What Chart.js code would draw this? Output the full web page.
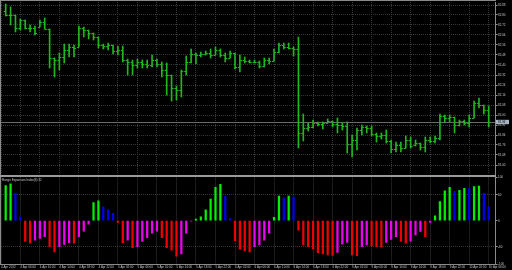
<!DOCTYPE html>
<html><head><meta charset="utf-8">
<script src="https://cdn.jsdelivr.net/npm/chart.js@4.4.1/dist/chart.umd.min.js"></script>
<style>
html,body{margin:0;padding:0;background:#000;width:512px;height:270px;overflow:hidden}
#main{position:absolute;left:0;top:0;width:512px;height:175px}
#sub{position:absolute;left:0;top:175px;width:512px;height:95px}
.frame{position:absolute;background:#8a8a8a}
</style></head><body>
<div id="main"><canvas id="c1"></canvas></div>
<div id="sub"><canvas id="c2"></canvas></div>
<div class="frame" style="left:0;top:0;width:496px;height:1px"></div>
<div class="frame" style="left:0;top:0;width:1px;height:265px"></div>
<div class="frame" style="left:0;top:175px;width:496px;height:2px;background:#9a9a9a"></div>
<script>
// ---- data (H1 bars, 4 Apr 2012 03:00 .. 10 Apr 2012 06:00) ----
const opens = [82.832,82.800,82.800,82.696,82.760,82.696,82.696,82.704,82.744,82.688,
82.456,82.440,82.464,82.520,82.544,82.544,82.696,82.680,82.656,82.624,
82.560,82.552,82.560,82.512,82.520,82.440,82.424,82.400,82.424,82.408,
82.400,82.440,82.408,82.360,82.320,82.216,82.200,82.352,82.424,82.488,
82.480,82.488,82.496,82.480,82.520,82.480,82.456,82.496,82.384,82.440,
82.432,82.424,82.424,82.392,82.440,82.432,82.504,82.560,82.544,82.536,
82.528,81.856,81.896,81.904,81.936,81.928,81.936,81.952,81.928,81.920,
81.912,81.768,81.800,81.880,81.904,81.896,81.848,81.832,81.840,81.792,
81.728,81.760,81.736,81.800,81.760,81.776,81.744,81.800,81.792,81.816,
81.992,81.976,81.984,81.920,81.952,81.936,81.976,82.096,82.080,82.040];
const highs = [82.888,82.864,82.800,82.768,82.760,82.720,82.712,82.760,82.776,82.688,
82.456,82.496,82.568,82.568,82.560,82.712,82.704,82.680,82.656,82.624,
82.568,82.576,82.560,82.552,82.552,82.448,82.440,82.448,82.440,82.440,
82.480,82.448,82.424,82.416,82.320,82.232,82.360,82.472,82.528,82.496,
82.504,82.512,82.528,82.544,82.528,82.496,82.512,82.496,82.480,82.464,
82.440,82.440,82.432,82.456,82.456,82.528,82.576,82.576,82.576,82.544,
82.624,82.008,81.936,81.960,81.944,81.944,81.968,81.952,81.976,81.936,
81.944,81.840,81.896,81.920,81.912,81.912,81.856,81.856,81.880,81.800,
81.784,81.784,81.832,81.824,81.800,81.776,81.824,81.824,81.832,82.008,
82.000,82.000,81.984,81.960,81.960,82.000,82.112,82.136,82.080,82.072];
const lows = [82.792,82.720,82.664,82.680,82.688,82.664,82.640,82.704,82.688,82.376,
82.304,82.360,82.416,82.464,82.464,82.544,82.624,82.608,82.600,82.536,
82.528,82.520,82.488,82.480,82.424,82.320,82.320,82.376,82.376,82.376,
82.384,82.384,82.304,82.160,82.112,82.120,82.144,82.320,82.416,82.408,
82.464,82.480,82.456,82.480,82.464,82.424,82.456,82.368,82.344,82.416,
82.416,82.416,82.376,82.384,82.408,82.432,82.496,82.528,82.528,82.472,
81.736,81.792,81.872,81.896,81.912,81.888,81.936,81.904,81.856,81.880,
81.696,81.664,81.720,81.840,81.856,81.832,81.784,81.808,81.776,81.696,
81.704,81.704,81.736,81.736,81.752,81.720,81.704,81.776,81.776,81.800,
81.944,81.944,81.856,81.912,81.920,81.904,81.976,82.056,82.008,81.904];
const closes = [82.800,82.800,82.696,82.760,82.696,82.696,82.656,82.744,82.688,82.456,
82.440,82.464,82.520,82.544,82.536,82.696,82.680,82.656,82.624,82.560,
82.552,82.560,82.512,82.520,82.440,82.424,82.400,82.424,82.408,82.400,
82.440,82.408,82.360,82.320,82.216,82.200,82.352,82.424,82.488,82.480,
82.488,82.496,82.480,82.520,82.480,82.456,82.496,82.384,82.440,82.432,
82.424,82.424,82.392,82.440,82.432,82.504,82.560,82.544,82.536,82.528,
81.856,81.896,81.904,81.936,81.928,81.936,81.952,81.928,81.920,81.912,
81.768,81.800,81.880,81.904,81.896,81.848,81.832,81.840,81.792,81.728,
81.760,81.736,81.800,81.752,81.776,81.744,81.800,81.792,81.816,81.992,
81.976,81.984,81.920,81.952,81.936,81.976,82.096,82.080,82.040,81.944];
// Range Expansion Index(8)
const rei = [81,85,63,9,-48,-52,-45,-41,-37,-60,
-72,-60,-55,-51,-52,-37,-24,-8,42,46,
32,25,17,-4,-51,-45,-62,-60,-48,-39,
-29,-24,-39,-62,-68,-82,-77,-29,-1,4,
9,25,50,77,84,57,5,-46,-66,-70,
-72,-60,-56,-45,-29,8,57,53,57,55,
-22,-56,-60,-65,-74,-77,-79,-80,-73,-54,
-50,-79,-81,-60,-56,-58,-60,-61,-50,-43,
-37,-48,-52,-47,-33,-25,-37,-4,11,44,
69,77,68,70,75,74,79,80,63,32];
const timeLabels = ["4 Apr 2012","4 Apr 06:00","4 Apr 10:00","4 Apr 14:00","4 Apr 18:00","4 Apr 22:00",
"5 Apr 02:00","5 Apr 06:00","5 Apr 10:00","5 Apr 14:00","5 Apr 18:00","5 Apr 22:00",
"6 Apr 02:00","6 Apr 06:00","6 Apr 10:00","6 Apr 14:00","6 Apr 18:00","6 Apr 22:00",
"9 Apr 02:00","9 Apr 06:00","9 Apr 10:00","9 Apr 14:00","9 Apr 18:00","9 Apr 22:00",
"10 Apr 02:00","10 Apr 06:00"];
const timeLabelBars = [3,7,11,15,19,23,27,31,35,39,43,47,51,55,59,63,67,71,75,79,83,87,91,95,99];
const priceTicks = [82.88,82.80,82.72,82.64,82.56,82.48,82.40,82.32,82.24,82.16,82.08,82.00,81.92,81.84,81.76,81.68,81.60];
const reiTicks = [100,60,0,-60,-100];
const reiLevels = [60,-60];
const indicatorName = "Range Expansion Index(8) 32";

// ---- style ----
const X_MIN = -0.963, X_MAX = 100.29;
const P_MIN = 81.528, P_MAX = 82.904;
const FONT = {family:'"Liberation Sans", Arial, sans-serif', size:3};
const GRID = '#34373b', TXT = '#c4c4c4', AXIS = '#8a8a8a';
const BAR = '#1fb81f';
const COL = {up:'#00f000', down:'#0000f0', dn:'#f00000', upn:'#f000f0'};

const xTicks = s => { s.ticks = [{value:s.min}].concat(timeLabelBars.map(v=>({value:v}))); };

const ohlcTicks = {
  id:'ohlcTicks',
  beforeDatasetsDraw(chart){
    const {ctx, chartArea:a, scales:{y}} = chart;
    const yv = Math.round(y.getPixelForValue(closes[closes.length-1]))+0.5;
    ctx.save(); ctx.strokeStyle='#6a6a6a'; ctx.lineWidth=1;
    ctx.beginPath(); ctx.moveTo(a.left, yv); ctx.lineTo(a.right, yv); ctx.stroke(); ctx.restore();
  },
  afterDatasetsDraw(chart){
    const {ctx, scales:{x,y}} = chart;
    ctx.save(); ctx.strokeStyle = BAR; ctx.lineWidth = 1; ctx.beginPath();
    for (let i=0;i<opens.length;i++){
      const px = x.getPixelForValue(i);
      const po = Math.round(y.getPixelForValue(opens[i]))+0.5;
      const pc = Math.round(y.getPixelForValue(closes[i]))+0.5;
      ctx.moveTo(px-2, po); ctx.lineTo(px, po);
      ctx.moveTo(px, pc); ctx.lineTo(px+2, pc);
    }
    ctx.stroke(); ctx.restore();
  },
  afterDraw(chart){
    const {ctx, chartArea:a, scales:{y}} = chart;
    const last = closes[closes.length-1];
    const yv = y.getPixelForValue(last);
    ctx.save();
    ctx.fillStyle='#a9b6c6'; ctx.fillRect(a.right+1, yv-2.2, 13, 4.4);
    ctx.fillStyle='#000'; ctx.font='3px "Liberation Sans", Arial, sans-serif';
    ctx.textBaseline='middle'; ctx.fillText(last.toFixed(2), a.right+3, yv);
    ctx.restore();
  }
};

new Chart(document.getElementById('c1'), {
  type:'bar',
  data:{datasets:[{
    data: highs.map((h,i)=>({x:i, y:[lows[i], h]})),
    backgroundColor: BAR, borderWidth:0, barThickness:1, grouped:false
  }]},
  options:{
    responsive:true, maintainAspectRatio:false, animation:false,
    layout:{padding:{left:1,right:0,top:2,bottom:1}},
    plugins:{legend:{display:false}, tooltip:{enabled:false}},
    scales:{
      x:{type:'linear', min:X_MIN, max:X_MAX, offset:false,
         afterBuildTicks:xTicks,
         afterFit:s=>{s.height=0;s.paddingLeft=0;s.paddingRight=0;},
         ticks:{display:false},
         grid:{offset:false, color:GRID, drawTicks:false},
         border:{display:false, dash:[1,1]}},
      y:{position:'right', min:P_MIN, max:P_MAX,
         afterBuildTicks:s=>{s.ticks = priceTicks.map(v=>({value:v}));},
         afterFit:s=>{s.width=17;s.paddingTop=0;s.paddingBottom=0;},
         ticks:{color:TXT, font:FONT, padding:0.5, callback:v=>v.toFixed(2)},
         grid:{color:GRID, tickColor:'#9a9a9a', tickLength:2.5, tickBorderDash:[]},
         border:{display:true, color:AXIS, dash:[1,1]}}
    }
  },
  plugins:[ohlcTicks]
});

const reiColors = rei.map((v,i)=>{
  const p = i>0 ? rei[i-1] : v;
  if (v >= 0) return v >= p ? COL.up : COL.down;
  return v < p ? COL.dn : COL.upn;
});

const nameLabel = {
  id:'nameLabel',
  afterDraw(chart){
    const {ctx, chartArea:a} = chart;
    ctx.save(); ctx.fillStyle=TXT; ctx.font='3px "Liberation Sans", Arial, sans-serif';
    ctx.textBaseline='top'; ctx.fillText(indicatorName, a.left+1, a.top+1.6); ctx.restore();
  }
};

new Chart(document.getElementById('c2'), {
  type:'bar',
  data:{datasets:[{
    data: rei.map((v,i)=>({x:i, y:v})),
    backgroundColor: reiColors, borderWidth:0, barThickness:1.6, grouped:false
  }]},
  options:{
    responsive:true, maintainAspectRatio:false, animation:false,
    layout:{padding:{left:1,right:0,top:2.4,bottom:0}},
    plugins:{legend:{display:false}, tooltip:{enabled:false}},
    scales:{
      x:{type:'linear', min:X_MIN, max:X_MAX, offset:false,
         afterBuildTicks:xTicks,
         afterFit:s=>{s.height=6;s.paddingLeft=0;s.paddingRight=0;},
         ticks:{color:TXT, font:FONT, align:'start', maxRotation:0, autoSkip:false, padding:0.5,
                callback:(v,idx)=>timeLabels[idx]},
         grid:{offset:false, color:GRID, tickColor:'#9a9a9a', tickLength:1, tickBorderDash:[]},
         border:{display:true, color:AXIS, dash:[1,1]}},
      y:{position:'right', min:-100, max:100,
         afterBuildTicks:s=>{s.ticks = reiTicks.map(v=>({value:v}));},
         afterFit:s=>{s.width=17;s.paddingTop=0;s.paddingBottom=0;},
         ticks:{color:TXT, font:FONT, padding:0.5},
         grid:{color:c=>reiLevels.includes(c.tick && c.tick.value) ? GRID : 'rgba(0,0,0,0)',
               tickColor:'#9a9a9a', tickLength:2.5, tickBorderDash:[]},
         border:{display:true, color:AXIS, dash:[1,1]}}
    }
  },
  plugins:[nameLabel]
});
</script>
</body></html>
